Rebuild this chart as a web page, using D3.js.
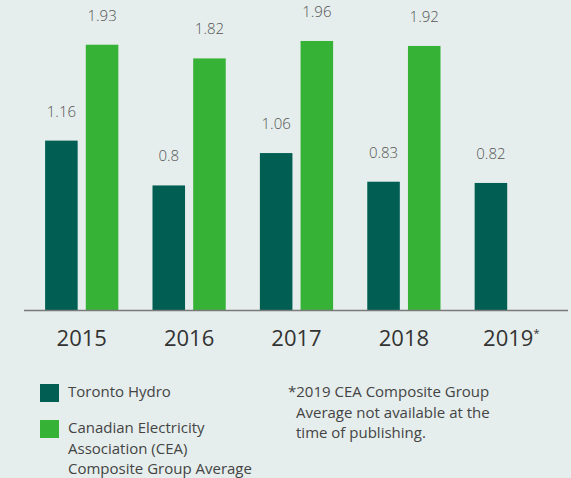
<!DOCTYPE html>
<html>
<head>
<meta charset="utf-8">
<script src="https://cdn.jsdelivr.net/npm/d3@7"></script>
<style>
  html, body { margin: 0; padding: 0; background: #e5eeec; }
  svg { display: block; font-family: "Open Sans", sans-serif; }
</style>
</head>
<body>
<div id="chart"></div>
<script>
// Datos del gráfico
const years = ["2015", "2016", "2017", "2018", "2019"];
const torontoHydro = [1.16, 0.8, 1.06, 0.83, 0.82];
const ceaAverage = [1.93, 1.82, 1.96, 1.92, null];
const seriesNames = ["Toronto Hydro", "Canadian Electricity Association (CEA) Composite Group Average"];

const width = 571;
const height = 478;
const baseline = 310;
const colors = ["#005e52", "#36b236"];

const svg = d3.select("#chart").append("svg")
    .attr("width", width)
    .attr("height", height);

svg.append("rect")
    .attr("width", width)
    .attr("height", height)
    .attr("fill", "#e5eeec");

// Escalas
const x = d3.scaleBand()
    .domain(years)
    .range([29, 564])
    .paddingInner(0.318)
    .paddingOuter(0.15);

const xSub = d3.scaleBand()
    .domain([0, 1])
    .range([0, x.bandwidth()])
    .paddingInner(0.2);

const y = d3.scaleLinear()
    .domain([-0.2, 2])
    .range([baseline, 36]);

const rows = years.map((yr, i) => ({ year: yr, values: [torontoHydro[i], ceaAverage[i]] }));

const group = svg.append("g")
    .selectAll("g")
    .data(rows)
    .join("g")
    .attr("transform", d => `translate(${x(d.year)},0)`);

const bars = group.selectAll("g")
    .data(d => d.values.map((v, k) => ({ v, k })).filter(d => d.v != null))
    .join("g");

bars.append("rect")
    .attr("x", d => xSub(d.k))
    .attr("width", xSub.bandwidth())
    .attr("y", d => y(d.v))
    .attr("height", d => baseline - y(d.v))
    .attr("fill", d => colors[d.k]);

bars.append("text")
    .attr("x", d => xSub(d.k) + xSub.bandwidth() / 2)
    .attr("y", d => y(d.v) - 24)
    .attr("text-anchor", "middle")
    .attr("font-size", "15px")
    .attr("font-weight", 300)
    .attr("fill", "#555")
    .text(d => d.v);

// Línea base
svg.append("line")
    .attr("x1", 24)
    .attr("x2", 568)
    .attr("y1", baseline + 0.5)
    .attr("y2", baseline + 0.5)
    .attr("stroke", "#7a7a7a")
    .attr("stroke-width", 1.5);

// Etiquetas de años
const yearText = svg.append("g")
    .selectAll("text")
    .data(years)
    .join("text")
    .attr("x", d => x(d) + x.bandwidth() / 2)
    .attr("y", 346)
    .attr("text-anchor", "middle")
    .attr("font-size", "22px")
    .attr("fill", "#333")
    .text(d => d);

yearText.filter(d => d === "2019")
    .append("tspan")
    .attr("font-size", "11px")
    .attr("dy", "-9")
    .text("*");

// Leyenda
const legendLines = [["Toronto Hydro"], ["Canadian Electricity", "Association (CEA)", "Composite Group Average"]];
const legendY = [384, 420];

const legend = svg.append("g")
    .selectAll("g")
    .data(seriesNames)
    .join("g")
    .attr("transform", (d, i) => `translate(40,${legendY[i]})`);

legend.append("rect")
    .attr("width", 19)
    .attr("height", 18)
    .attr("fill", (d, i) => colors[i]);

legend.append("text")
    .attr("font-size", "15px")
    .attr("fill", "#444")
    .selectAll("tspan")
    .data((d, i) => legendLines[i])
    .join("tspan")
    .attr("x", 28)
    .attr("y", (d, i) => 13 + i * 20.5)
    .text(d => d);

// Nota al pie
const note = ["*2019 CEA Composite Group", "Average not available at the", "time of publishing."];
svg.append("text")
    .attr("font-size", "15px")
    .attr("fill", "#444")
    .selectAll("tspan")
    .data(note)
    .join("tspan")
    .attr("x", (d, i) => i === 0 ? 288 : 296)
    .attr("y", (d, i) => 397 + i * 20.5)
    .text(d => d);
</script>
</body>
</html>
